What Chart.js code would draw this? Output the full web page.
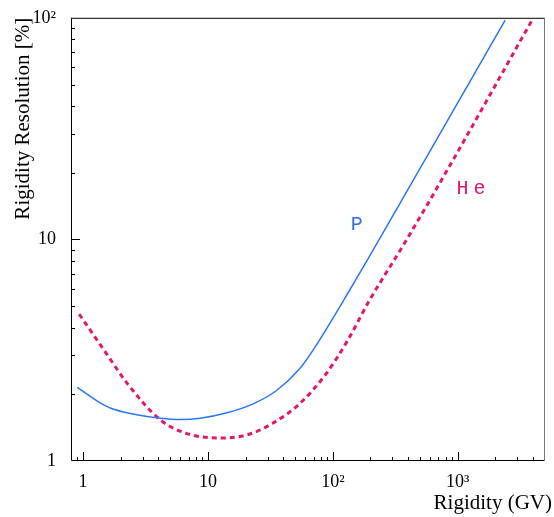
<!DOCTYPE html>
<html>
<head>
<meta charset="utf-8">
<script src="https://cdn.jsdelivr.net/npm/chart.js@4"></script>
<style>
  html, body { margin: 0; padding: 0; background: #fff; }
  #wrap { width: 554px; height: 517px; }
</style>
</head>
<body>
<div id="wrap"><canvas id="chart"></canvas></div>
<script>
// rigidity (GV) vs resolution (%)
const protonRigidity = [0.9, 1.31, 1.67, 2.5, 4.17, 6.0, 8.7, 14.2, 23, 35.4, 54, 69, 135, 535, 2400];
const protonResolution = [2.15, 1.86, 1.73, 1.63, 1.56, 1.54, 1.56, 1.65, 1.81, 2.08, 2.6, 3.15, 5.85, 22.4, 97.7];
const heliumRigidity = [0.93, 1.48, 2.27, 4.17, 6.8, 12.5, 20.4, 33, 54, 88, 131, 195, 383, 900, 3900];
const heliumResolution = [4.6, 3.15, 2.23, 1.53, 1.33, 1.27, 1.31, 1.48, 1.81, 2.47, 3.49, 5.27, 9.8, 22.4, 96.7];

const xTicks = [1, 10, 100, 1000];
const xTickLabels = ['1', '10', '10\u00b2', '10\u00b3'];
const yTicks = [1, 10, 100];
const yTickLabels = ['1', '10', '10\u00b2'];

const BLUE = '#2a78f2';
const PINK = '#e6166e';
const SERIF = "'Liberation Serif', 'DejaVu Serif', serif";

const toPoints = (xs, ys) => xs.map((x, i) => ({ x: x, y: ys[i] }));

// inward ticks (major + minor), frame, curve labels and the x title
const frameTicks = {
  id: 'frameTicks',
  afterDraw(chart) {
    const ctx = chart.ctx;
    const a = chart.chartArea;
    const xs = chart.scales.x, ys = chart.scales.y;
    ctx.save();
    ctx.strokeStyle = '#000';
    ctx.lineWidth = 1;
    ctx.beginPath();
    ctx.moveTo(a.left + 0.5, a.top + 0.5);
    ctx.lineTo(a.right - 0.5, a.top + 0.5);
    ctx.moveTo(a.left + 0.5, a.top);
    ctx.lineTo(a.left + 0.5, a.bottom - 0.5);
    ctx.lineTo(a.right, a.bottom - 0.5);
    ctx.stroke();
    ctx.strokeStyle = '#777';
    ctx.beginPath();
    ctx.moveTo(a.right - 0.5, a.top);
    ctx.lineTo(a.right - 0.5, a.bottom);
    ctx.stroke();

    ctx.strokeStyle = '#000';
    ctx.beginPath();
    for (let d = -1; d <= 3; d++) {
      for (let m = 1; m <= 9; m++) {
        const v = m * Math.pow(10, d);
        const px = Math.round(xs.getPixelForValue(v)) + 0.5;
        if (px > a.left + 1 && px < a.right - 1) {
          const len = m === 1 ? 9 : 4;
          ctx.moveTo(px, a.bottom);
          ctx.lineTo(px, a.bottom - len);
        }
      }
    }
    for (let d = 0; d <= 1; d++) {
      for (let m = 1; m <= 9; m++) {
        const v = m * Math.pow(10, d);
        const py = Math.round(ys.getPixelForValue(v)) + 0.5;
        if (py > a.top + 1 && py < a.bottom - 1) {
          const len = m === 1 ? 9 : 4;
          ctx.moveTo(a.left, py);
          ctx.lineTo(a.left + len, py);
        }
      }
    }
    ctx.stroke();

    // x axis title, hangs a bit past the frame like the original
    ctx.font = '21px ' + SERIF;
    ctx.fillStyle = '#000';
    ctx.textAlign = 'right';
    ctx.textBaseline = 'alphabetic';
    ctx.fillText('Rigidity (GV)', 552, 509);

    // curve labels
    ctx.font = "20px 'Liberation Mono', 'DejaVu Sans Mono', monospace";
    ctx.textAlign = 'center';
    ctx.textBaseline = 'middle';
    ctx.letterSpacing = '5px';
    ctx.fillStyle = '#3470ea';
    ctx.fillText('P', xs.getPixelForValue(163), ys.getPixelForValue(11.6));
    ctx.fillStyle = PINK;
    ctx.fillText('He', xs.getPixelForValue(1340), ys.getPixelForValue(16.9));
    ctx.restore();
  }
};

new Chart(document.getElementById('chart'), {
  type: 'line',
  data: {
    datasets: [
      {
        label: 'P',
        data: toPoints(protonRigidity, protonResolution),
        borderColor: BLUE,
        borderWidth: 1.5,
        pointRadius: 0,
        cubicInterpolationMode: 'monotone',
        fill: false
      },
      {
        label: 'He',
        data: toPoints(heliumRigidity, heliumResolution),
        borderColor: PINK,
        borderWidth: 3,
        borderDash: [5, 4],
        pointRadius: 0,
        cubicInterpolationMode: 'monotone',
        fill: false
      }
    ]
  },
  options: {
    responsive: true,
    maintainAspectRatio: false,
    animation: false,
    layout: { padding: { top: 15, right: 9, left: 0, bottom: 0 } },
    plugins: {
      legend: { display: false },
      tooltip: { enabled: false }
    },
    scales: {
      x: {
        type: 'logarithmic',
        min: 0.8,
        max: 5000,
        border: { display: false },
        grid: { display: false },
        afterBuildTicks: (s) => { s.ticks = xTicks.map(v => ({ value: v })); },
        afterFit: (s) => { s.height = 56; },
        ticks: {
          autoSkip: false,
          maxRotation: 0,
          padding: 2,
          color: '#000',
          font: { family: SERIF, size: 18 },
          callback: (v) => xTickLabels[xTicks.indexOf(v)]
        }
      },
      y: {
        type: 'logarithmic',
        min: 1,
        max: 100,
        border: { display: false },
        grid: { display: false },
        afterBuildTicks: (s) => { s.ticks = yTicks.map(v => ({ value: v })); },
        afterFit: (s) => { s.width = 71; },
        ticks: {
          autoSkip: false,
          padding: 7,
          color: '#000',
          font: { family: SERIF, size: 18 },
          callback: (v) => yTickLabels[yTicks.indexOf(v)]
        },
        title: {
          display: true,
          text: 'Rigidity Resolution [%]',
          align: 'end',
          color: '#000',
          font: { family: SERIF, size: 21, lineHeight: 1.2 },
          padding: { top: 11, bottom: 0 }
        }
      }
    }
  },
  plugins: [frameTicks]
});
</script>
</body>
</html>
